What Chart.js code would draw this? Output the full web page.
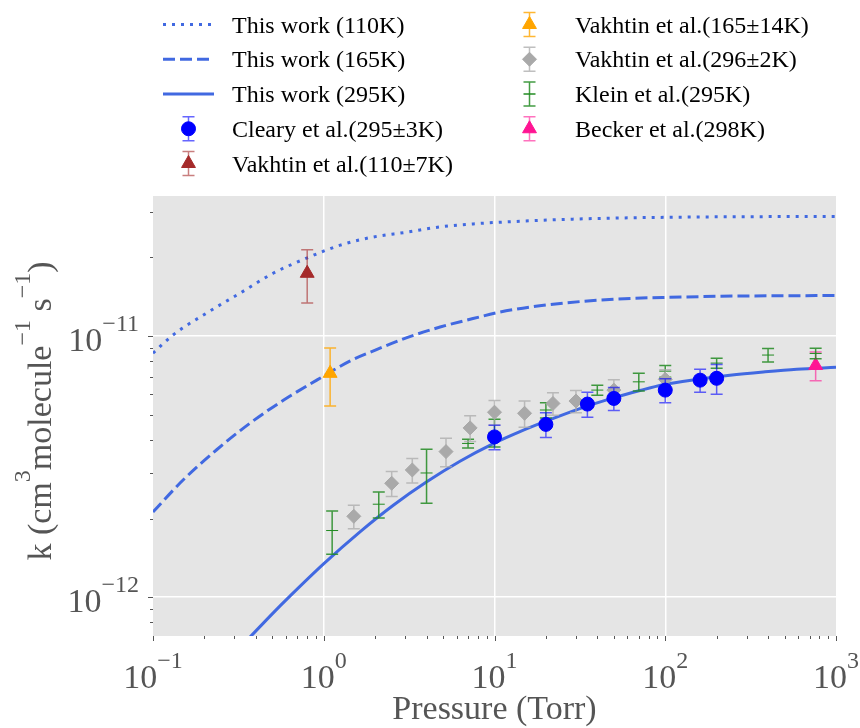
<!DOCTYPE html>
<html>
<head>
<meta charset="utf-8">
<script src="https://cdn.jsdelivr.net/npm/chart.js@4/dist/chart.umd.min.js"></script>
<style>
  html, body { margin: 0; padding: 0; background: #fff; }
</style>
</head>
<body>
<canvas id="chart" width="860" height="728"></canvas>
<script>
// This work: model curves, pressure (Torr) and k (cm3 molecule-1 s-1)
const p110 = [0.1, 0.131, 0.206, 0.323, 0.505, 0.795, 1.25, 1.94, 3.07, 4.8, 7.5, 10.8, 26.5, 65, 102, 250, 1000];
const k110 = [8.6e-12, 1.01e-11, 1.225e-11, 1.46e-11, 1.74e-11, 1.99e-11, 2.23e-11, 2.395e-11, 2.5e-11, 2.62e-11, 2.69e-11, 2.73e-11, 2.8e-11, 2.84e-11, 2.85e-11, 2.865e-11, 2.87e-11];

const p165 = [0.1, 0.15, 0.236, 0.37, 0.58, 0.91, 1.42, 1.94, 3.07, 4.8, 7.48, 10.8, 16.9, 26.5, 41.5, 65, 102, 250, 1000];
const k165 = [2.12e-12, 2.81e-12, 3.67e-12, 4.64e-12, 5.68e-12, 6.78e-12, 8.02e-12, 8.76e-12, 9.87e-12, 1.083e-11, 1.167e-11, 1.236e-11, 1.297e-11, 1.341e-11, 1.374e-11, 1.395e-11, 1.407e-11, 1.423e-11, 1.43e-11];

const p295 = [0.36, 0.506, 0.634, 0.994, 1.63, 2.555, 4.01, 6.28, 9.84, 14.1, 20.2, 31.6, 49.6, 71.1, 97.4, 153, 239, 375, 589, 1000];
const k295 = [6.9e-13, 8.71e-13, 1.009e-12, 1.338e-12, 1.779e-12, 2.25e-12, 2.766e-12, 3.316e-12, 3.873e-12, 4.305e-12, 4.73e-12, 5.275e-12, 5.8e-12, 6.19e-12, 6.51e-12, 6.82e-12, 7.08e-12, 7.29e-12, 7.47e-12, 7.59e-12];

// measurements with +/- errors
const clearyP = [10, 20, 35, 50, 100, 160, 200];
const clearyK = [4.11e-12, 4.59e-12, 5.49e-12, 5.77e-12, 6.21e-12, 6.78e-12, 6.89e-12];
const clearyErr = [0.44e-12, 0.5e-12, 0.6e-12, 0.58e-12, 0.65e-12, 0.68e-12, 0.9e-12];

const vak110P = [0.8];
const vak110K = [1.74e-11];
const vak110Err = [0.4e-11];

const vak165P = [1.09];
const vak165K = [7.2e-12];
const vak165Err = [1.8e-12];

const vak296P = [1.5, 2.5, 3.3, 5.2, 7.2, 10, 15, 22, 30, 50, 100];
const vak296K = [2.04e-12, 2.73e-12, 3.07e-12, 3.61e-12, 4.45e-12, 5.11e-12, 5.06e-12, 5.52e-12, 5.64e-12, 6.21e-12, 6.83e-12];
const vak296Err = [0.21e-12, 0.3e-12, 0.33e-12, 0.45e-12, 0.5e-12, 0.55e-12, 0.58e-12, 0.55e-12, 0.55e-12, 0.6e-12, 0.6e-12];

const kleinP = [1.12, 2.1, 4, 7, 10, 20, 40, 70, 100, 200, 400, 760];
const kleinK = [1.8e-12, 2.27e-12, 2.99e-12, 3.88e-12, 4.28e-12, 5.21e-12, 6.21e-12, 6.68e-12, 7.34e-12, 7.88e-12, 8.46e-12, 8.58e-12];
const kleinErr = [0.34e-12, 0.26e-12, 0.7e-12, 0.15e-12, 0.52e-12, 0.35e-12, 0.27e-12, 0.52e-12, 0.38e-12, 0.35e-12, 0.5e-12, 0.4e-12];

const beckerP = [760];
const beckerK = [7.72e-12];
const beckerErr = [0.98e-12];

const xMin = 0.1, xMax = 1000;
const yMin = 7.1e-13, yMax = 3.44e-11;

const SERIF = '"Liberation Serif", "Times New Roman", serif';
const GREY = '#555555';

function pts(xs, ys) {
  return xs.map((x, i) => ({ x, y: ys[i] }));
}

function curve(label, xs, ys, dash) {
  return {
    label, data: pts(xs, ys), showLine: true, pointRadius: 0,
    borderColor: 'royalblue', borderWidth: 3, borderDash: dash,
    cubicInterpolationMode: 'monotone', order: 10, legendKind: 'line'
  };
}

function measured(label, xs, ys, errs, color, errColor, style, radius) {
  return {
    label, data: pts(xs, ys), errors: errs, errorColor: errColor,
    pointStyle: style, pointRadius: radius, backgroundColor: color,
    borderColor: color, borderWidth: 1, order: 1, legendKind: 'point'
  };
}

const datasets = [
  curve('This work (110K)', p110, k110, [3, 6]),
  curve('This work (165K)', p165, k165, [12, 5]),
  curve('This work (295K)', p295, k295, []),
  measured('Cleary et al.(295±3K)', clearyP, clearyK, clearyErr, '#0000ff', 'rgba(0,0,255,0.6)', 'circle', 7),
  measured('Vakhtin et al.(110±7K)', vak110P, vak110K, vak110Err, '#a52a2a', 'rgba(165,42,42,0.6)', 'triangle', 8),
  measured('Vakhtin et al.(165±14K)', vak165P, vak165K, vak165Err, '#ffa500', 'rgba(255,165,0,0.8)', 'triangle', 8),
  measured('Vakhtin et al.(296±2K)', vak296P, vak296K, vak296Err, '#a9a9a9', 'rgba(169,169,169,0.75)', 'rectRot', 7),
  measured('Klein et al.(295K)', kleinP, kleinK, kleinErr, '#228b22', 'rgba(34,139,34,0.85)', 'line', 6),
  measured('Becker et al.(298K)', beckerP, beckerK, beckerErr, '#ff1493', 'rgba(255,20,147,0.6)', 'triangle', 8)
];

// grey plotting area
const panel = {
  id: 'panel',
  beforeDraw(chart) {
    const a = chart.chartArea;
    chart.ctx.save();
    chart.ctx.fillStyle = '#e5e5e5';
    chart.ctx.fillRect(a.left, a.top, a.width, a.height);
    chart.ctx.restore();
  }
};

function drawErrorBar(ctx, px, top, bot, half) {
  ctx.beginPath();
  ctx.moveTo(px, top); ctx.lineTo(px, bot);
  ctx.moveTo(px - half, top); ctx.lineTo(px + half, top);
  ctx.moveTo(px - half, bot); ctx.lineTo(px + half, bot);
  ctx.stroke();
}

const errorBars = {
  id: 'errorBars',
  beforeDatasetDraw(chart, args) {
    const ds = chart.data.datasets[args.index];
    if (!ds.errors) return;
    const { ctx, chartArea: a, scales: { x, y } } = chart;
    ctx.save();
    ctx.beginPath();
    ctx.rect(a.left, a.top, a.width, a.height);
    ctx.clip();
    ctx.strokeStyle = ds.errorColor;
    ctx.lineWidth = 1.5;
    ds.data.forEach((pt, i) => {
      const px = x.getPixelForValue(pt.x);
      drawErrorBar(ctx, px, y.getPixelForValue(pt.y + ds.errors[i]), y.getPixelForValue(pt.y - ds.errors[i]), 6);
    });
    ctx.restore();
  }
};

// "10" with a raised exponent, like matplotlib's mathtext labels
function power(ctx, exp, x, y, align) {
  const e = exp < 0 ? '\u2212' + (-exp) : String(exp);
  ctx.font = '34px ' + SERIF;
  const wb = ctx.measureText('10').width;
  ctx.font = '24px ' + SERIF;
  const we = ctx.measureText(e).width;
  let x0 = align === 'right' ? x - wb - we : x - (wb + we) / 2;
  ctx.textAlign = 'left';
  ctx.font = '34px ' + SERIF;
  ctx.fillText('10', x0, y);
  ctx.font = '24px ' + SERIF;
  ctx.fillText(e, x0 + wb, y - 20);
}

function logTicks(min, max) {
  const out = [];
  for (let e = Math.floor(Math.log10(min)); e <= Math.ceil(Math.log10(max)); e++) {
    for (let m = 1; m < 10; m++) {
      const v = m * Math.pow(10, e);
      if (v >= min * 0.999 && v <= max * 1.001) out.push({ v, e, major: m === 1 });
    }
  }
  return out;
}

const axes = {
  id: 'axes',
  afterDraw(chart) {
    const { ctx, chartArea: a, scales: { x, y } } = chart;
    ctx.save();
    ctx.strokeStyle = GREY;
    ctx.fillStyle = GREY;
    ctx.lineWidth = 1;
    ctx.textBaseline = 'alphabetic';
    logTicks(xMin, xMax).forEach(t => {
      const px = Math.round(x.getPixelForValue(t.v)) + 0.5;
      ctx.beginPath();
      ctx.moveTo(px, a.bottom);
      ctx.lineTo(px, a.bottom + (t.major ? 5 : 3));
      ctx.stroke();
      if (t.major) power(ctx, t.e, x.getPixelForValue(t.v), 688, 'center');
    });
    logTicks(yMin, yMax).forEach(t => {
      const py = Math.round(y.getPixelForValue(t.v)) + 0.5;
      ctx.beginPath();
      ctx.moveTo(a.left, py);
      ctx.lineTo(a.left - (t.major ? 5 : 3), py);
      ctx.stroke();
      if (t.major) power(ctx, t.e, 139, y.getPixelForValue(t.v) + 15, 'right');
    });

    // axis titles
    ctx.font = '34px ' + SERIF;
    ctx.textAlign = 'center';
    ctx.fillText('Pressure (Torr)', (a.left + a.right) / 2, 719);

    const parts = [['k (cm', false], ['3', true], ['molecule', false], ['\u22121', true], [' s', false], ['\u22121', true], [')', false]];
    const widths = parts.map(([t, sup]) => {
      ctx.font = (sup ? '24px ' : '34px ') + SERIF;
      return ctx.measureText(t).width;
    });
    const total = widths.reduce((s, w) => s + w, 0);
    ctx.translate(51, (a.top + a.bottom) / 2 - 5);
    ctx.rotate(-Math.PI / 2);
    ctx.textAlign = 'left';
    let cx = -total / 2;
    parts.forEach(([t, sup], i) => {
      ctx.font = (sup ? '24px ' : '34px ') + SERIF;
      ctx.fillText(t, cx, sup ? -21 : 0);
      cx += widths[i];
    });
    ctx.restore();
  }
};

// two-column legend above the plot, filled column by column
const legendBox = {
  id: 'legendBox',
  afterDraw(chart) {
    const ctx = chart.ctx;
    const cols = [{ handle: 163, text: 232 }, { handle: 504, text: 575 }];
    const perCol = 5;
    ctx.save();
    chart.data.datasets.forEach((ds, i) => {
      const col = cols[Math.floor(i / perCol)];
      const rowY = 24.5 + 34.75 * (i % perCol);
      const cx = col.handle + 25.5;
      if (ds.legendKind === 'line') {
        ctx.strokeStyle = ds.borderColor;
        ctx.lineWidth = 3;
        ctx.setLineDash(ds.borderDash);
        ctx.beginPath();
        ctx.moveTo(col.handle, rowY);
        ctx.lineTo(col.handle + 51, rowY);
        ctx.stroke();
        ctx.setLineDash([]);
      } else {
        ctx.strokeStyle = ds.errorColor;
        ctx.lineWidth = 1.5;
        drawErrorBar(ctx, cx, rowY - 12, rowY + 12, 6);
        ctx.fillStyle = ds.backgroundColor;
        ctx.strokeStyle = ds.borderColor;
        ctx.lineWidth = ds.pointStyle === 'line' ? 1.5 : 1;
        Chart.helpers.drawPoint(ctx, { pointStyle: ds.pointStyle, rotation: 0, radius: ds.pointRadius, borderWidth: ctx.lineWidth }, cx, rowY);
      }
      ctx.fillStyle = '#000';
      ctx.font = '24px ' + SERIF;
      ctx.textAlign = 'left';
      ctx.textBaseline = 'alphabetic';
      ctx.fillText(ds.label, col.text, rowY + 8);
    });
    ctx.restore();
  }
};

new Chart(document.getElementById('chart'), {
  type: 'scatter',
  data: { datasets },
  plugins: [panel, errorBars, axes, legendBox],
  options: {
    responsive: false,
    animation: false,
    layout: { padding: { left: 153, right: 24, top: 196, bottom: 92 } },
    plugins: { legend: { display: false }, tooltip: { enabled: false } },
    scales: {
      x: {
        type: 'logarithmic', min: xMin, max: xMax,
        afterBuildTicks: (axis) => { axis.ticks = [1, 10, 100].map(v => ({ value: v })); },
        grid: { color: '#ffffff', lineWidth: 1.5, drawTicks: false },
        border: { display: false },
        ticks: { display: false }
      },
      y: {
        type: 'logarithmic', min: yMin, max: yMax,
        afterBuildTicks: (axis) => { axis.ticks = [1e-12, 1e-11].map(v => ({ value: v })); },
        grid: { color: '#ffffff', lineWidth: 1.5, drawTicks: false },
        border: { display: false },
        ticks: { display: false }
      }
    }
  }
});
</script>
</body>
</html>
